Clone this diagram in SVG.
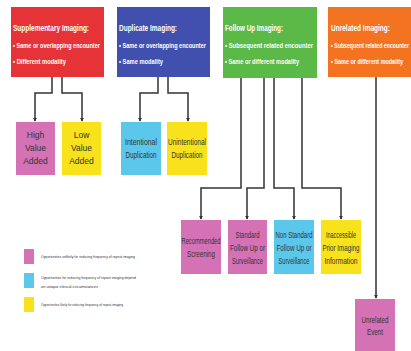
<svg xmlns="http://www.w3.org/2000/svg" width="411" height="351" viewBox="0 0 411 351">
<defs>
<marker id="arr" viewBox="0 0 6 6" refX="5" refY="3" markerWidth="4" markerHeight="4" orient="auto" markerUnits="userSpaceOnUse">
<path d="M0,0 L6,3 L0,6 Z" fill="#333"/>
</marker>
<style>
.hdr{font-family:"Liberation Sans Narrow","Liberation Sans",Arial,sans-serif;fill:#fff;font-weight:bold}
.t{font-size:9px}
.b{font-size:7.5px}
.lbl{font-family:"Liberation Sans Narrow","Liberation Sans",Arial,sans-serif;fill:#333;font-size:8.5px;text-anchor:middle}
.lg{font-family:"Liberation Sans Narrow","Liberation Sans",Arial,sans-serif;fill:#333;font-size:4px}
.con{fill:none;stroke:#333;stroke-width:1.5;marker-end:url(#arr)}
.pink{fill:#d472b5}.cyan{fill:#5bc7ea}.yel{fill:#f8e21c}
</style>
</defs>
<rect width="411" height="351" fill="#fff"/>

<g id="supplementary">
<rect x="11" y="7" width="93" height="70" fill="#e63338"/>
<text class="hdr t" transform="translate(13,31) scale(0.72,1)" textLength="105.6" lengthAdjust="spacingAndGlyphs">Supplementary Imaging:</text>
<text class="hdr b" transform="translate(13,48) scale(0.72,1)" textLength="120.8" lengthAdjust="spacingAndGlyphs">• Same or overlapping encounter</text>
<text class="hdr b" transform="translate(13,64) scale(0.72,1)" textLength="73.6" lengthAdjust="spacingAndGlyphs">• Different modality</text>
</g>
<g id="duplicate">
<rect x="117" y="7" width="93" height="70" fill="#4150ae"/>
<text class="hdr t" transform="translate(119,31) scale(0.72,1)" textLength="80.6" lengthAdjust="spacingAndGlyphs">Duplicate Imaging:</text>
<text class="hdr b" transform="translate(119,48) scale(0.72,1)" textLength="120.8" lengthAdjust="spacingAndGlyphs">• Same or overlapping encounter</text>
<text class="hdr b" transform="translate(119,64) scale(0.72,1)" textLength="61.1" lengthAdjust="spacingAndGlyphs">• Same modality</text>
</g>
<g id="followup">
<rect x="223" y="7" width="94" height="71" fill="#5bb948"/>
<text class="hdr t" transform="translate(225,31) scale(0.72,1)" textLength="80.6" lengthAdjust="spacingAndGlyphs">Follow Up Imaging:</text>
<text class="hdr b" transform="translate(225,48) scale(0.72,1)" textLength="122.2" lengthAdjust="spacingAndGlyphs">• Subsequent related encounter</text>
<text class="hdr b" transform="translate(225,64) scale(0.72,1)" textLength="102.8" lengthAdjust="spacingAndGlyphs">• Same or different modality</text>
</g>
<g id="unrelated">
<rect x="328" y="7" width="83" height="70" fill="#f47321"/>
<text class="hdr t" transform="translate(331,31) scale(0.72,1)" textLength="81.9" lengthAdjust="spacingAndGlyphs">Unrelated Imaging:</text>
<text class="hdr b" transform="translate(331,48) scale(0.72,1)" textLength="108.3" lengthAdjust="spacingAndGlyphs">• Subsequent related encounter</text>
<text class="hdr b" transform="translate(331,64) scale(0.72,1)" textLength="100" lengthAdjust="spacingAndGlyphs">• Same or different modality</text>
</g>

<g id="connectors">
<path class="con" d="M52,77 V93 H35 V121"/>
<path class="con" d="M62,77 V93 H82 V121"/>
<path class="con" d="M158,77 V93 H140 V121"/>
<path class="con" d="M168,77 V93 H188 V121"/>
<path class="con" d="M241,78 V188 H201 V219"/>
<path class="con" d="M264,78 V188 H247 V219"/>
<path class="con" d="M274,78 V188 H294 V219"/>
<path class="con" d="M302,78 V188 H341 V219"/>
<path class="con" d="M376,77 V298"/>
</g>

<g id="high-value">
<rect class="pink" x="16" y="122" width="39" height="53"/>
<text class="lbl" x="35.5" y="138">High</text>
<text class="lbl" x="35.5" y="151">Value</text>
<text class="lbl" x="35.5" y="164">Added</text>
</g>
<g id="low-value">
<rect class="yel" x="62" y="122" width="39" height="53"/>
<text class="lbl" x="81.5" y="138">Low</text>
<text class="lbl" x="81.5" y="151">Value</text>
<text class="lbl" x="81.5" y="164">Added</text>
</g>
<g id="intentional">
<rect class="cyan" x="121" y="122" width="40" height="53"/>
<text class="lbl" x="141" y="145" textLength="32" lengthAdjust="spacingAndGlyphs">Intentional</text>
<text class="lbl" x="141" y="158" textLength="31" lengthAdjust="spacingAndGlyphs">Duplication</text>
</g>
<g id="unintentional">
<rect class="yel" x="167" y="122" width="40" height="53"/>
<text class="lbl" x="187" y="145" textLength="38" lengthAdjust="spacingAndGlyphs">Unintentional</text>
<text class="lbl" x="187" y="158" textLength="31" lengthAdjust="spacingAndGlyphs">Duplication</text>
</g>
<g id="recommended">
<rect class="pink" x="181" y="220" width="40" height="54"/>
<text class="lbl" x="201" y="244" textLength="39" lengthAdjust="spacingAndGlyphs">Recommended</text>
<text class="lbl" x="201" y="257" textLength="28" lengthAdjust="spacingAndGlyphs">Screening</text>
</g>
<g id="standard">
<rect class="pink" x="228" y="220" width="39" height="54"/>
<text class="lbl" x="247.5" y="238" textLength="24" lengthAdjust="spacingAndGlyphs">Standard</text>
<text class="lbl" x="247.5" y="251" textLength="35" lengthAdjust="spacingAndGlyphs">Follow Up or</text>
<text class="lbl" x="247.5" y="264" textLength="31" lengthAdjust="spacingAndGlyphs">Surveillance</text>
</g>
<g id="non-standard">
<rect class="cyan" x="274" y="220" width="40" height="54"/>
<text class="lbl" x="294" y="238" textLength="37" lengthAdjust="spacingAndGlyphs">Non Standard</text>
<text class="lbl" x="294" y="251" textLength="35" lengthAdjust="spacingAndGlyphs">Follow Up or</text>
<text class="lbl" x="294" y="264" textLength="31" lengthAdjust="spacingAndGlyphs">Surveillance</text>
</g>
<g id="inaccessible">
<rect class="yel" x="321" y="220" width="40" height="54"/>
<text class="lbl" x="341" y="238" textLength="30" lengthAdjust="spacingAndGlyphs">Inaccessible</text>
<text class="lbl" x="341" y="251" textLength="37" lengthAdjust="spacingAndGlyphs">Prior Imaging</text>
<text class="lbl" x="341" y="264" textLength="33" lengthAdjust="spacingAndGlyphs">Information</text>
</g>
<g id="unrelated-event">
<rect class="pink" x="355" y="299" width="40" height="52"/>
<text class="lbl" x="375" y="323" textLength="27" lengthAdjust="spacingAndGlyphs">Unrelated</text>
<text class="lbl" x="375" y="335" textLength="16" lengthAdjust="spacingAndGlyphs">Event</text>
</g>

<g id="legend">
<rect class="pink" x="24" y="249" width="10" height="15"/>
<rect class="cyan" x="24" y="273" width="10" height="15"/>
<rect class="yel" x="24" y="297" width="10" height="15"/>
<text class="lg" x="41" y="258" textLength="94" lengthAdjust="spacingAndGlyphs">Opportunities unlikely for reducing frequency of repeat imaging</text>
<text class="lg" x="41" y="279" textLength="95" lengthAdjust="spacingAndGlyphs">Opportunities for reducing frequency of repeat imaging depend</text>
<text class="lg" x="41" y="288" textLength="57" lengthAdjust="spacingAndGlyphs">on unique clinical circumstances</text>
<text class="lg" x="41" y="306" textLength="82" lengthAdjust="spacingAndGlyphs">Opportunities likely for reducing frequency of repeat imaging</text>
</g>
</svg>
